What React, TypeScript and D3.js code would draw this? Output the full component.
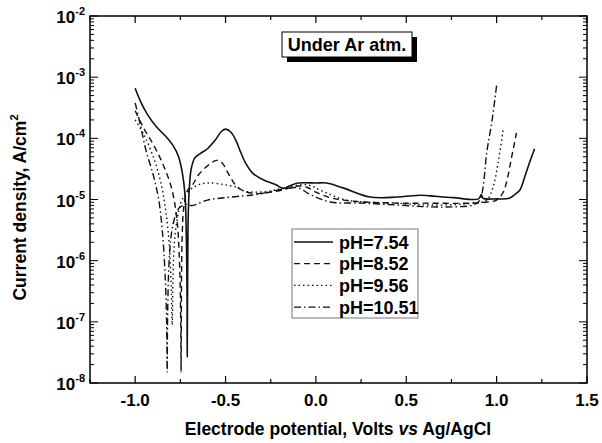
import React, { useEffect, useRef } from "react";
import * as d3 from "d3";

// potential (V vs Ag/AgCl) and log10 of current density (A/cm2)
const ph754: [number, number][] = [
  [-1.0, -3.18], [-0.97, -3.4], [-0.93, -3.62], [-0.88, -3.82], [-0.83, -3.97],
  [-0.79, -4.12], [-0.76, -4.3], [-0.74, -4.55], [-0.725, -4.9], [-0.717, -5.6],
  [-0.713, -6.6], [-0.712, -7.57], [-0.71, -6.4], [-0.706, -5.2], [-0.7, -4.8],
  [-0.69, -4.5], [-0.67, -4.32], [-0.64, -4.25], [-0.6, -4.17], [-0.56, -4.04],
  [-0.52, -3.88], [-0.5, -3.85], [-0.47, -3.9], [-0.44, -4.05], [-0.42, -4.2],
  [-0.39, -4.4], [-0.35, -4.57], [-0.29, -4.68], [-0.22, -4.76], [-0.18, -4.82],
  [-0.14, -4.77], [-0.1, -4.73], [0.0, -4.73], [0.06, -4.73], [0.15, -4.81],
  [0.3, -4.96], [0.45, -4.96], [0.58, -4.93], [0.63, -4.94], [0.76, -4.97],
  [0.9, -4.99], [0.915, -4.92], [0.925, -4.98], [1.0, -4.99], [1.07, -4.98],
  [1.1, -4.92], [1.13, -4.84], [1.15, -4.68], [1.17, -4.5], [1.19, -4.33], [1.21, -4.17],
];
const ph852: [number, number][] = [
  [-1.0, -3.55], [-0.95, -3.85], [-0.9, -4.1], [-0.85, -4.4], [-0.8, -4.8],
  [-0.77, -5.3], [-0.755, -6.0], [-0.748, -7.0], [-0.746, -7.82], [-0.744, -6.5],
  [-0.74, -5.6], [-0.73, -5.1], [-0.71, -4.85], [-0.68, -4.75], [-0.65, -4.6],
  [-0.6, -4.45], [-0.55, -4.36], [-0.52, -4.4], [-0.48, -4.6], [-0.44, -4.78],
  [-0.4, -4.86], [-0.35, -4.9], [-0.3, -4.9], [-0.25, -4.88], [-0.18, -4.84],
  [-0.1, -4.78], [-0.05, -4.8], [0.0, -4.88], [0.08, -4.97], [0.15, -5.01],
  [0.26, -5.04], [0.45, -5.06], [0.6, -5.06], [0.85, -5.06], [0.95, -5.04],
  [1.0, -5.01], [1.035, -4.89], [1.06, -4.65], [1.08, -4.35], [1.11, -3.91],
];
const ph956: [number, number][] = [
  [-1.0, -3.7], [-0.95, -3.95], [-0.9, -4.3], [-0.86, -4.7], [-0.83, -5.2],
  [-0.81, -5.8], [-0.8, -6.5], [-0.795, -7.05], [-0.79, -6.2], [-0.78, -5.6],
  [-0.76, -5.2], [-0.74, -5.0], [-0.7, -4.85], [-0.65, -4.76], [-0.6, -4.73],
  [-0.5, -4.76], [-0.43, -4.81], [-0.4, -4.86], [-0.33, -4.88], [-0.25, -4.86],
  [-0.18, -4.81], [-0.05, -4.76], [0.04, -4.87], [0.17, -5.01], [0.45, -5.06],
  [0.63, -5.09], [0.87, -5.06], [0.945, -5.01], [0.98, -4.8], [1.008, -4.4], [1.036, -3.86],
];
const ph1051: [number, number][] = [
  [-1.0, -3.42], [-0.97, -3.8], [-0.94, -4.2], [-0.9, -4.6], [-0.87, -5.0],
  [-0.85, -5.5], [-0.835, -6.2], [-0.826, -7.0], [-0.823, -7.82], [-0.82, -6.8],
  [-0.81, -5.9], [-0.79, -5.4], [-0.76, -5.15], [-0.72, -5.08], [-0.685, -5.1],
  [-0.6, -5.01], [-0.5, -4.97], [-0.4, -4.94], [-0.33, -4.92], [-0.18, -4.83],
  [-0.1, -4.81], [-0.03, -4.92], [0.08, -5.04], [0.26, -5.06], [0.45, -5.09],
  [0.62, -5.12], [0.76, -5.12], [0.87, -5.09], [0.908, -5.01], [0.925, -4.8],
  [0.945, -4.24], [0.975, -3.7], [1.0, -3.13],
];

const seriesNames = ["pH=7.54", "pH=8.52", "pH=9.56", "pH=10.51"];
const seriesData = [ph754, ph852, ph956, ph1051];
const dashes = ["none", "6,4", "1.5,3", "7,3,1.5,3"];

const xTicks = [-1.0, -0.5, 0.0, 0.5, 1.0, 1.5];
const yDecades = [-8, -7, -6, -5, -4, -3, -2];

export default function App() {
  const ref = useRef<SVGSVGElement>(null);

  useEffect(() => {
    const svg = d3.select(ref.current);
    svg.selectAll("*").remove();

    const left = 90, right = 587, top = 16, bottom = 383;
    const x = d3.scaleLinear().domain([-1.25, 1.5]).range([left, right]);
    const y = d3.scaleLog().domain([1e-8, 1e-2]).range([bottom, top]);
    const font = "'Liberation Sans', Arial, sans-serif";

    // curves
    const line = d3
      .line<[number, number]>()
      .x((d) => x(d[0]))
      .y((d) => y(Math.pow(10, d[1])))
      .curve(d3.curveCatmullRom.alpha(0.5));

    seriesData.forEach((s, i) => {
      svg
        .append("path")
        .attr("d", line(s))
        .attr("fill", "none")
        .attr("stroke", "#111")
        .attr("stroke-width", i === 0 ? 1.6 : 1.4)
        .attr("stroke-dasharray", dashes[i]);
    });

    // frame
    svg
      .append("rect")
      .attr("x", left)
      .attr("y", top)
      .attr("width", right - left)
      .attr("height", bottom - top)
      .attr("fill", "none")
      .attr("stroke", "#000")
      .attr("stroke-width", 1.5);

    // x ticks (bottom and top, inward)
    const xMinor = d3.range(-1.25, 1.5001, 0.25);
    xMinor.forEach((v) => {
      const major = xTicks.some((t) => Math.abs(t - v) < 1e-6);
      const len = major ? 7 : 4;
      [
        [bottom, bottom - len],
        [top, top + len],
      ].forEach(([a, b]) => {
        svg
          .append("line")
          .attr("x1", x(v)).attr("x2", x(v))
          .attr("y1", a).attr("y2", b)
          .attr("stroke", "#000").attr("stroke-width", 1.2);
      });
    });

    // y ticks (left and right, inward)
    yDecades.forEach((d) => {
      const vals = [Math.pow(10, d)];
      if (d < -2) for (let k = 2; k <= 9; k++) vals.push(k * Math.pow(10, d));
      vals.forEach((v, j) => {
        const len = j === 0 ? 8 : 4;
        [
          [left, left + len],
          [right, right - len],
        ].forEach(([a, b]) => {
          svg
            .append("line")
            .attr("x1", a).attr("x2", b)
            .attr("y1", y(v)).attr("y2", y(v))
            .attr("stroke", "#000").attr("stroke-width", 1);
        });
      });
    });

    // x tick labels
    xTicks.forEach((t) => {
      svg
        .append("text")
        .attr("x", x(t))
        .attr("y", 406)
        .attr("text-anchor", "middle")
        .attr("font-family", font)
        .attr("font-weight", "bold")
        .attr("font-size", 17)
        .text(t.toFixed(1));
    });

    // y tick labels
    yDecades.forEach((d) => {
      const t = svg
        .append("text")
        .attr("x", 85)
        .attr("y", y(Math.pow(10, d)) + 7)
        .attr("text-anchor", "end")
        .attr("font-family", font)
        .attr("font-weight", "bold")
        .attr("font-size", 17);
      t.append("tspan").text("10");
      t.append("tspan").attr("dy", -8).attr("font-size", 11).text(String(d));
    });

    // axis titles
    const xt = svg
      .append("text")
      .attr("x", 338)
      .attr("y", 435)
      .attr("text-anchor", "middle")
      .attr("font-family", font)
      .attr("font-weight", "bold")
      .attr("font-size", 17.5);
    xt.append("tspan").text("Electrode potential, Volts ");
    xt.append("tspan").attr("font-style", "italic").text("vs");
    xt.append("tspan").text(" Ag/AgCl");

    const yt = svg
      .append("text")
      .attr("transform", `translate(26, ${(top + bottom) / 2 + 8}) rotate(-90)`)
      .attr("text-anchor", "middle")
      .attr("font-family", font)
      .attr("font-weight", "bold")
      .attr("font-size", 17.5);
    yt.append("tspan").text("Current density, A/cm");
    yt.append("tspan").attr("dy", -8).attr("font-size", 11).text("2");

    // title box with shadow
    svg.append("rect").attr("x", 287).attr("y", 37).attr("width", 130).attr("height", 25).attr("fill", "#000");
    svg
      .append("rect")
      .attr("x", 282).attr("y", 32).attr("width", 130).attr("height", 25)
      .attr("fill", "#fff").attr("stroke", "#000").attr("stroke-width", 1);
    svg
      .append("text")
      .attr("x", 347).attr("y", 51)
      .attr("text-anchor", "middle")
      .attr("font-family", font)
      .attr("font-weight", "bold")
      .attr("font-size", 18)
      .text("Under Ar atm.");

    // legend
    svg
      .append("rect")
      .attr("x", 292).attr("y", 229).attr("width", 126).attr("height", 89)
      .attr("fill", "#fff").attr("stroke", "#777").attr("stroke-width", 1);
    seriesNames.forEach((name, i) => {
      const ry = 242 + i * 21.7;
      svg
        .append("line")
        .attr("x1", 294).attr("x2", 333)
        .attr("y1", ry).attr("y2", ry)
        .attr("stroke", "#111")
        .attr("stroke-width", i === 0 ? 1.5 : 1.2)
        .attr("stroke-dasharray", dashes[i]);
      svg
        .append("text")
        .attr("x", 339).attr("y", ry + 6.5)
        .attr("font-family", font)
        .attr("font-weight", "bold")
        .attr("font-size", 18)
        .text(name);
    });
  }, []);

  return (
    <svg
      ref={ref}
      width={602}
      height={443}
      style={{ position: "absolute", left: 0, top: 0, background: "#fff" }}
    />
  );
}
